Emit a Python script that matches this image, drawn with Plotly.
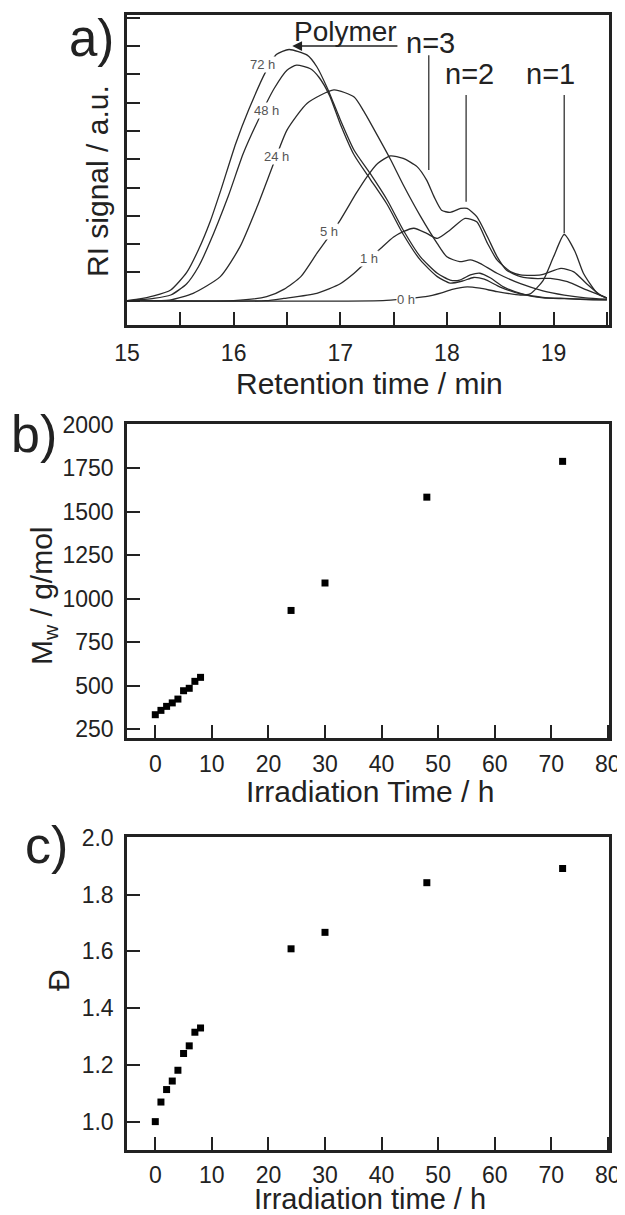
import plotly.graph_objects as go

# ---- panel a: RI traces, retention time (min) vs signal (a.u.) ----
h0_x = [15.0, 17.4, 17.6, 17.8, 17.95, 18.05, 18.19, 18.31, 18.47, 18.69, 18.78, 18.9, 19.0, 19.1, 19.2, 19.28, 19.41, 19.5]
h0_y = [0.0, 0.0, 0.06, 0.14, 0.28, 0.4, 0.49, 0.44, 0.32, 0.2, 0.24, 0.7, 1.55, 2.34, 1.75, 0.97, 0.26, 0.08]

h1_x = [15.0, 16.3, 16.47, 16.78, 17.0, 17.13, 17.28, 17.38, 17.5, 17.59, 17.69, 17.81, 17.91, 18.03, 18.17,
        18.28, 18.38, 18.47, 18.6, 18.69, 18.88, 19.07, 19.19, 19.31, 19.44, 19.5]
h1_y = [0.0, 0.0, 0.08, 0.26, 0.6, 0.97, 1.5, 1.85, 2.25, 2.44, 2.56, 2.38, 2.2, 2.5, 2.91,
        2.79, 2.03, 1.44, 1.02, 0.91, 0.91, 1.14, 1.02, 0.6, 0.2, 0.1]

h5_x = [15.0, 16.0, 16.31, 16.47, 16.63, 16.78, 16.9, 17.0, 17.15, 17.25, 17.35, 17.47, 17.59, 17.72, 17.81,
        17.88, 17.95, 18.03, 18.13, 18.19, 18.28, 18.38, 18.47, 18.56, 18.69, 18.85, 18.97, 19.13, 19.31, 19.47, 19.5]
h5_y = [0.0, 0.0, 0.14, 0.4, 0.85, 1.67, 2.3, 2.85, 3.8, 4.38, 4.85, 5.12, 5.03, 4.74, 4.26,
        3.67, 3.2, 3.12, 3.26, 3.26, 2.97, 2.26, 1.56, 1.08, 0.85, 0.78, 0.79, 0.67, 0.38, 0.14, 0.1]

h24_x = [15.0, 15.4, 15.62, 15.875, 16.06, 16.22, 16.4, 16.5, 16.69, 16.94, 17.13, 17.22, 17.31, 17.47, 17.59,
         17.75, 17.91, 18.0, 18.12, 18.22, 18.31, 18.47, 18.69, 18.9, 19.1, 19.3, 19.5]
h24_y = [0.0, 0.02, 0.26, 0.85, 1.91, 3.32, 5.1, 6.03, 6.98, 7.45, 7.2, 6.7, 6.1, 5.0, 4.1,
         3.0, 2.02, 1.55, 1.38, 1.44, 1.32, 0.97, 0.6, 0.35, 0.2, 0.1, 0.05]

h48_x = [15.0, 15.25, 15.41, 15.56, 15.67, 15.77, 15.95, 16.09, 16.22, 16.38, 16.5, 16.59, 16.72, 16.8, 16.9,
         17.0, 17.13, 17.28, 17.44, 17.59, 17.75, 17.91, 18.03, 18.15, 18.25, 18.35, 18.5, 18.69, 18.9, 19.1, 19.3, 19.5]
h48_y = [0.0, 0.08, 0.2, 0.6, 1.2, 2.0, 3.7, 5.2, 6.3, 7.5, 8.15, 8.33, 8.2, 7.9, 7.25,
         6.25, 5.15, 4.3, 3.4, 2.35, 1.44, 0.85, 0.62, 0.7, 0.82, 0.76, 0.48, 0.24, 0.1, 0.07, 0.04, 0.03]

h72_x = [15.0, 15.1, 15.25, 15.41, 15.56, 15.67, 15.78, 15.88, 16.02, 16.14, 16.3, 16.4, 16.52, 16.69, 16.78,
         16.88, 17.0, 17.13, 17.28, 17.44, 17.59, 17.75, 17.91, 18.03, 18.12, 18.22, 18.31, 18.41, 18.53, 18.69,
         18.9, 19.1, 19.3, 19.5]
h72_y = [0.0, 0.05, 0.17, 0.38, 1.0, 1.8, 2.8, 3.91, 5.56, 6.74, 8.09, 8.7, 8.88, 8.68, 8.27,
         7.5, 6.4, 5.32, 4.5, 3.56, 2.5, 1.56, 0.97, 0.73, 0.73, 0.91, 0.97, 0.8, 0.49, 0.26,
         0.12, 0.08, 0.05, 0.03]

trace_labels = ["0 h", "1 h", "5 h", "24 h", "48 h", "72 h"]
label_x = [17.62, 17.27, 16.89, 16.4, 16.31, 16.27]
label_y = [0.05, 1.5, 2.44, 5.1, 6.74, 8.35]

peak_names = ["n=3", "n=2", "n=1"]
peak_pos = [17.83, 18.18, 19.1]
peak_text_x = [17.85, 18.21, 18.97]
peak_text_y = [9.1, 8.03, 8.03]
peak_line_top = [8.68, 7.27, 7.27]
peak_line_bottom = [4.62, 3.5, 2.38]

# ---- panels b and c: irradiation time (h) ----
irr_time = [0, 1, 2, 3, 4, 5, 6, 7, 8, 24, 30, 48, 72]
mw = [332, 357, 380, 400, 422, 470, 484, 524, 547, 932, 1090, 1584, 1790]
dispersity = [1.0, 1.069, 1.113, 1.143, 1.181, 1.24, 1.267, 1.315, 1.33, 1.609, 1.667, 1.842, 1.892]

# the page body adds an 8 px margin, so the figure is shrunk and positions shifted by it
OFF = 8
W, H = 625 - OFF, 1215 - OFF
FONT = "Liberation Sans, Arial, sans-serif"
INK = "#222"


def px_x(p):
    return (p - OFF) / W


def px_y(p):
    return 1 - (p - OFF) / H


fig = go.Figure()

curves = [(h0_x, h0_y), (h1_x, h1_y), (h5_x, h5_y), (h24_x, h24_y), (h48_x, h48_y), (h72_x, h72_y)]
for (cx, cy), name in zip(curves, trace_labels):
    fig.add_trace(go.Scatter(x=cx, y=cy, mode="lines", name=name, xaxis="x", yaxis="y",
                             line=dict(color="#2a2a2a", width=1.3, shape="spline", smoothing=0.6),
                             showlegend=False))

fig.add_trace(go.Scatter(x=irr_time, y=mw, mode="markers", xaxis="x2", yaxis="y2", showlegend=False,
                         marker=dict(symbol="square", size=7, color="black")))
fig.add_trace(go.Scatter(x=irr_time, y=dispersity, mode="markers", xaxis="x3", yaxis="y3", showlegend=False,
                         marker=dict(symbol="square", size=7, color="black")))

box = dict(showline=True, linecolor=INK, linewidth=2.5, mirror=True, showgrid=False, zeroline=False,
           ticks="inside", ticklen=13, tickwidth=2, tickcolor=INK, automargin=False)

xa = [px_x(127), px_x(609)]
fig.update_layout(
    width=W, height=H, margin=dict(l=0, r=0, t=0, b=0, autoexpand=False),
    paper_bgcolor="white", plot_bgcolor="white",
    font=dict(family=FONT, color=INK),
    xaxis=dict(domain=xa, anchor="y", range=[15, 19.52], tickvals=[15, 16, 17, 18, 19],
               minor=dict(dtick=0.5, ticks="inside", ticklen=13, tickwidth=2, tickcolor=INK),
               tickfont=dict(size=23), ticklabelstandoff=6, **box),
    yaxis=dict(domain=[px_y(325), px_y(15)], anchor="x", range=[-0.86, 10.1], dtick=1,
               showticklabels=False, **box),
    xaxis2=dict(domain=xa, anchor="y2", range=[-5, 80.2], dtick=10,
                tickfont=dict(size=23), ticklabelstandoff=4, **box),
    yaxis2=dict(domain=[px_y(738), px_y(424)], anchor="x2", range=[198, 2005], dtick=250,
                tickfont=dict(size=23), ticklabelstandoff=6, **box),
    xaxis3=dict(domain=xa, anchor="y3", range=[-5, 80.2], dtick=10,
                tickfont=dict(size=23), ticklabelstandoff=3, **box),
    yaxis3=dict(domain=[px_y(1150), px_y(837)], anchor="x3", range=[0.9, 2.003], dtick=0.2,
                tickformat=".1f", tickfont=dict(size=23), ticklabelstandoff=6, **box),
)

ann = []
# curve labels sit on the traces, masking them
for t, lx, ly in zip(trace_labels, label_x, label_y):
    ann.append(dict(x=lx, y=ly, xref="x", yref="y", text=t, showarrow=False, bgcolor="white",
                    borderpad=0, font=dict(size=13, color="#555")))

# peak assignments
shapes = []
for name, p, tx, ty, top, bot in zip(peak_names, peak_pos, peak_text_x, peak_text_y, peak_line_top, peak_line_bottom):
    ann.append(dict(x=tx, y=ty, xref="x", yref="y", text=name, showarrow=False, font=dict(size=29)))
    shapes.append(dict(type="line", xref="x", yref="y", x0=p, x1=p, y0=bot, y1=top,
                       line=dict(color="#333", width=1.3)))

ann.append(dict(x=17.05, y=9.52, xref="x", yref="y", text="Polymer", showarrow=False, font=dict(size=28)))
ann.append(dict(x=16.55, y=9.0, xref="x", yref="y", ax=17.55, ay=9.0, axref="x", ayref="y", text="",
                showarrow=True, arrowhead=2, arrowsize=1.3, arrowwidth=1.5, arrowcolor="#222"))

# axis titles and panel letters
ann += [
    dict(x=px_x(369), y=px_y(383), text="Retention time / min", font=dict(size=30)),
    dict(x=px_x(97), y=px_y(181), text="RI signal / a.u.", textangle=-90, font=dict(size=30)),
    dict(x=px_x(370), y=px_y(791), text="Irradiation Time / h", font=dict(size=30)),
    dict(x=px_x(44), y=px_y(596), text="M<sub>w</sub> / g/mol", textangle=-90, font=dict(size=30)),
    dict(x=px_x(370), y=px_y(1199), text="Irradiation time / h", font=dict(size=29)),
    dict(x=px_x(58), y=px_y(980), text="Đ", textangle=-90, font=dict(size=30)),
    dict(x=px_x(91), y=px_y(39), text="a)", font=dict(size=51)),
    dict(x=px_x(34), y=px_y(434), text="b)", font=dict(size=52)),
    dict(x=px_x(46), y=px_y(845), text="c)", font=dict(size=52)),
]
for a in ann[-9:]:
    a.update(xref="paper", yref="paper", showarrow=False, xanchor="center", yanchor="middle")

fig.update_layout(annotations=ann, shapes=shapes)

fig.write_html("out.html")
